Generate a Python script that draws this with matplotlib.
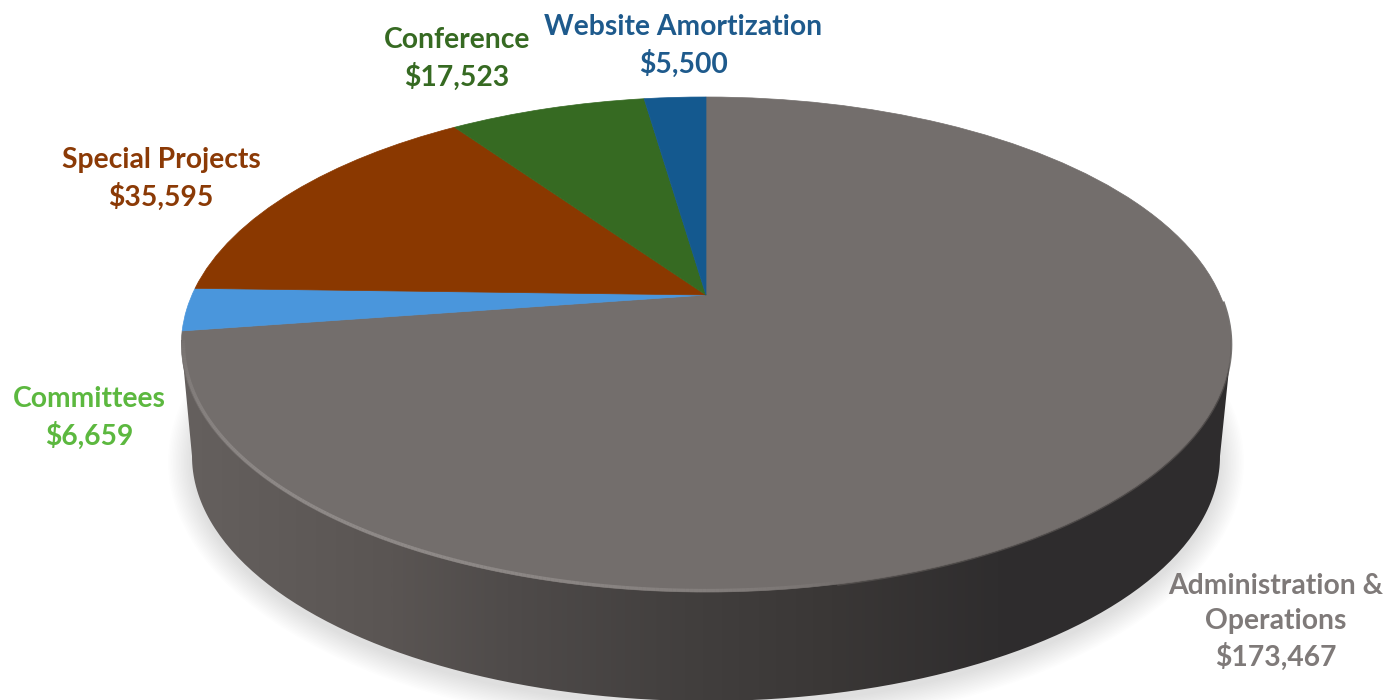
import numpy as np
import matplotlib
matplotlib.use("Agg")
import matplotlib.pyplot as plt
from matplotlib.transforms import Transform
from matplotlib.path import Path
from matplotlib.patches import PathPatch, Ellipse
from matplotlib.collections import LineCollection
from matplotlib.colors import LinearSegmentedColormap, to_rgb

categories = ["Administration &\nOperations", "Committees", "Special Projects",
              "Conference", "Website Amortization"]
amounts = [173467, 6659, 35595, 17523, 5500]
slice_colors = ["#736e6c", "#4a96dc", "#8a3800", "#366a22", "#14598f"]
label_colors = ["#7f7a79", "#5cb83f", "#8b3a06", "#366a22", "#1e5a8c"]
label_centers = [(1276, 622), (89, 418), (161, 179), (457, 59), (683, 46)]

plt.rcParams["font.family"] = ["Lato", "DejaVu Sans"]
fig = plt.figure(figsize=(13.88, 7.0), dpi=100)
ax = fig.add_axes([0, 0, 1, 1])


class Perspective(Transform):
    """Tilts the flat unit pie into the picture plane, far edge shrunk."""
    input_dims = 2
    output_dims = 2
    is_separable = False
    has_inverse = False

    def transform_non_affine(self, xy):
        xy = np.asarray(xy, dtype=float)
        w = 1 + 0.2 * xy[:, 1]
        return np.column_stack([706 + 514 * xy[:, 0] / w, 295 - 237.6 * xy[:, 1] / w])


persp = Perspective()
wedges, _ = ax.pie(amounts, colors=slice_colors, startangle=90, counterclock=False,
                   radius=1, wedgeprops={"linewidth": 0}, frame=False)
for w in wedges:
    w.set_transform(persp + ax.transData)
    w.set_clip_on(False)
    w.set_zorder(5)
    w.set_edgecolor(w.get_facecolor())
    w.set_linewidth(0.5)

ax.set_aspect("auto")
ax.set_xlim(0, 1388)
ax.set_ylim(700, 0)
ax.axis("off")

# soft ground shadow
for i in range(16):
    grow = 24 * (1 - i / 15)
    ax.add_patch(Ellipse((706, 462), 2 * (514 + grow), 2 * (245 + grow), fc="#000000",
                         ec="none", alpha=0.0085, zorder=1))

# rim of the disc: chord between the top outline's side points, lower half of the bottom outline
t = np.linspace(0, np.pi, 200)
bot_x, bot_y = 706 + 514 * np.cos(t), 456 + 245 * np.sin(t)
side = Path(np.column_stack([np.r_[181, 1231, 1231, bot_x, 181],
                             np.r_[340, 340, 350, bot_y, 340]]))
patch = PathPatch(side, fc="none", ec="none", transform=ax.transData)
ax.add_patch(patch)
stops = [(0.0, "#65605e"), (0.20, "#5a5553"), (0.31, "#4f4b4a"), (0.48, "#423f3e"),
         (0.62, "#3a3736"), (0.78, "#2f2d2e"), (1.0, "#2e2c2d")]
cmap = LinearSegmentedColormap.from_list("side", stops)
im = ax.imshow(np.linspace(0, 1, 512)[None, :], cmap=cmap, aspect="auto",
               extent=(181, 1231, 701, 97), zorder=2, interpolation="bilinear")
im.set_clip_path(patch)
ax.set_xlim(0, 1388)
ax.set_ylim(700, 0)

# bevel highlight along the front rim of the top face
ang = np.radians(np.linspace(190, 282, 240))
pts = persp.transform_non_affine(np.column_stack([0.996 * np.cos(ang), 0.996 * np.sin(ang)]))
segs = np.stack([pts[:-1], pts[1:]], axis=1)
fade = np.sin(np.linspace(0, np.pi, len(segs))) ** 0.6
rgba = np.zeros((len(segs), 4))
rgba[:, :3] = to_rgb("#9b9694")
rgba[:, 3] = 0.7 * fade
ax.add_collection(LineCollection(segs, colors=rgba, linewidths=2.4, zorder=6, capstyle="butt"))

# soft edge on the shaded right side
ang2 = np.radians(np.linspace(282, 358, 160))
pts2 = persp.transform_non_affine(np.column_stack([np.cos(ang2), np.sin(ang2)]))
ax.plot(pts2[:, 0], pts2[:, 1], color="#55514f", lw=2.5, alpha=0.8, zorder=4.9)

for name, val, col, (cx, cy) in zip(categories, amounts, label_colors, label_centers):
    ax.text(cx, cy, f"{name}\n${val:,}", color=col, fontsize=20.3, fontweight="bold",
            ha="center", va="center", linespacing=1.4, zorder=8)

fig.savefig("out.png", dpi=100, facecolor="white")
